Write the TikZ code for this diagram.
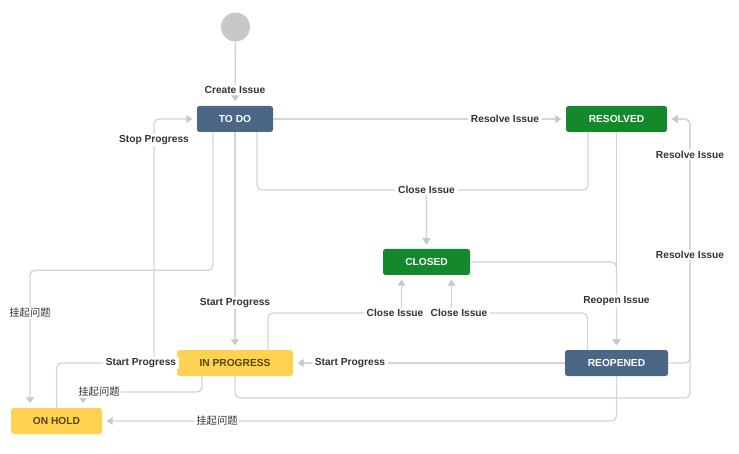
\documentclass[tikz,border=0pt]{standalone}
\usepackage{fontspec}
\setmainfont{Liberation Sans}
\newfontfamily\cjk{Noto Sans CJK SC}
\usetikzlibrary{arrows.meta}

\definecolor{statusblue}{HTML}{4A6785}
\definecolor{statusgreen}{HTML}{14892C}
\definecolor{statusyellow}{HTML}{FFD351}
\definecolor{yellowtext}{HTML}{594300}
\definecolor{edgegray}{HTML}{D4D4D4}
\definecolor{tipgray}{HTML}{C8C8C8}
\definecolor{labeltext}{HTML}{333333}

\tikzset{
  status/.style={rounded corners=2.5pt, minimum height=26pt, inner sep=0pt,
    font=\fontsize{10.2}{12}\selectfont\bfseries},
  bluestatus/.style={status, fill=statusblue, text=white},
  greenstatus/.style={status, fill=statusgreen, text=white},
  yellowstatus/.style={status, fill=statusyellow, text=yellowtext},
  edge/.style={draw=edgegray, line width=1.3pt, rounded corners=5pt,
    shorten >=4.5pt,
    -{Triangle[width=8pt,length=6pt,color=tipgray]}},
  lbl/.style={fill=white, inner xsep=3pt, inner ysep=1.5pt, text=labeltext,
    font=\fontsize{10.2}{12}\selectfont\bfseries},
  cjklbl/.style={fill=white, inner xsep=1.5pt, inner ysep=1.5pt, text=labeltext,
    font=\fontsize{10.3}{12}\selectfont\cjk},
}

\begin{document}
\begin{tikzpicture}[x=1pt,y=-1pt]
  \useasboundingbox (0,0) rectangle (739,454);

  % initial state and statuses
  \node[circle, fill=tipgray, minimum size=29pt, inner sep=0pt] (start) at (235.5,27) {};
  \node[bluestatus, minimum width=76pt] (todo) at (235,119) {TO DO};
  \node[greenstatus, minimum width=101pt] (resolved) at (616.5,119) {RESOLVED};
  \node[greenstatus, minimum width=87pt] (closed) at (426.5,262) {CLOSED};
  \node[bluestatus, minimum width=103pt] (reopened) at (616.5,363) {REOPENED};
  \node[yellowstatus, minimum width=116pt] (inprog) at (235,363) {IN PROGRESS};
  \node[yellowstatus, minimum width=91pt] (onhold) at (56.5,421) {ON HOLD};

  \coordinate (closejoin) at (426.5,190);

  % transitions
  \draw[edge] (start) -- (todo);
  \draw[edge] (todo) -- (resolved);
  \draw[edge] (inprog.west) -- (154,363) |- (todo.west);
  \draw[edge] (onhold.north) |- (inprog.west);
  \draw[edge] ([xshift=-22pt]todo.south) -- ++(0,138) -| ([xshift=-26.5pt]onhold.north);
  \draw[edge] (todo) -- (inprog);
  \draw[edge] ([xshift=22pt]todo.south) |- (closejoin) -- (closed.north);
  \draw[edge] ([xshift=-28.5pt]resolved.south) |- (closejoin) -- (closed.north);
  \draw[edge] (resolved) -- (reopened);
  \draw[edge] (closed.east) -| (reopened.north);
  \draw[edge] (reopened.east) -- (690,363) |- (resolved.east);
  \draw[edge] (inprog.south) -- (235,398) -- (690,398) |- (resolved.east);
  \draw[edge] ([xshift=33pt]inprog.north) |- (401.5,313) -- ([xshift=-25pt]closed.south);
  \draw[edge] ([xshift=-29pt]reopened.north) |- (451.5,313) -- ([xshift=25pt]closed.south);
  \draw[edge] (reopened) -- (inprog);
  \draw[edge] ([xshift=-33pt]inprog.south) |- (83,392) -- ([xshift=26.5pt]onhold.north);
  \draw[edge] (reopened.south) |- (onhold.east);

  % transition names
  \node[lbl] (lcreate) at (235,90) {Create Issue};
  \node[lbl] (lresolve1) at (505,119) {Resolve Issue};
  \node[lbl] (lstop) at (154,140) {Stop Progress};
  \node[lbl] (lstart1) at (141,363) {Start Progress};
  \node[cjklbl] (lhold1) at (30,313) {挂起问题};
  \node[lbl] (lstart2) at (235,303) {Start Progress};
  \node[lbl] (lclose1) at (426.5,190) {Close Issue};
  \node[lbl] (lreopen) at (616.5,301) {Reopen Issue};
  \node[lbl] (lresolve2) at (690,155) {Resolve Issue};
  \node[lbl] (lresolve3) at (690,255) {Resolve Issue};
  \node[lbl] (lclose2) at (395,313) {Close Issue};
  \node[lbl] (lclose3) at (459,313) {Close Issue};
  \node[lbl] (lstart3) at (350,363) {Start Progress};
  \node[cjklbl] (lhold2) at (99,392) {挂起问题};
  \node[cjklbl] (lhold3) at (217,421) {挂起问题};
\end{tikzpicture}
\end{document}
